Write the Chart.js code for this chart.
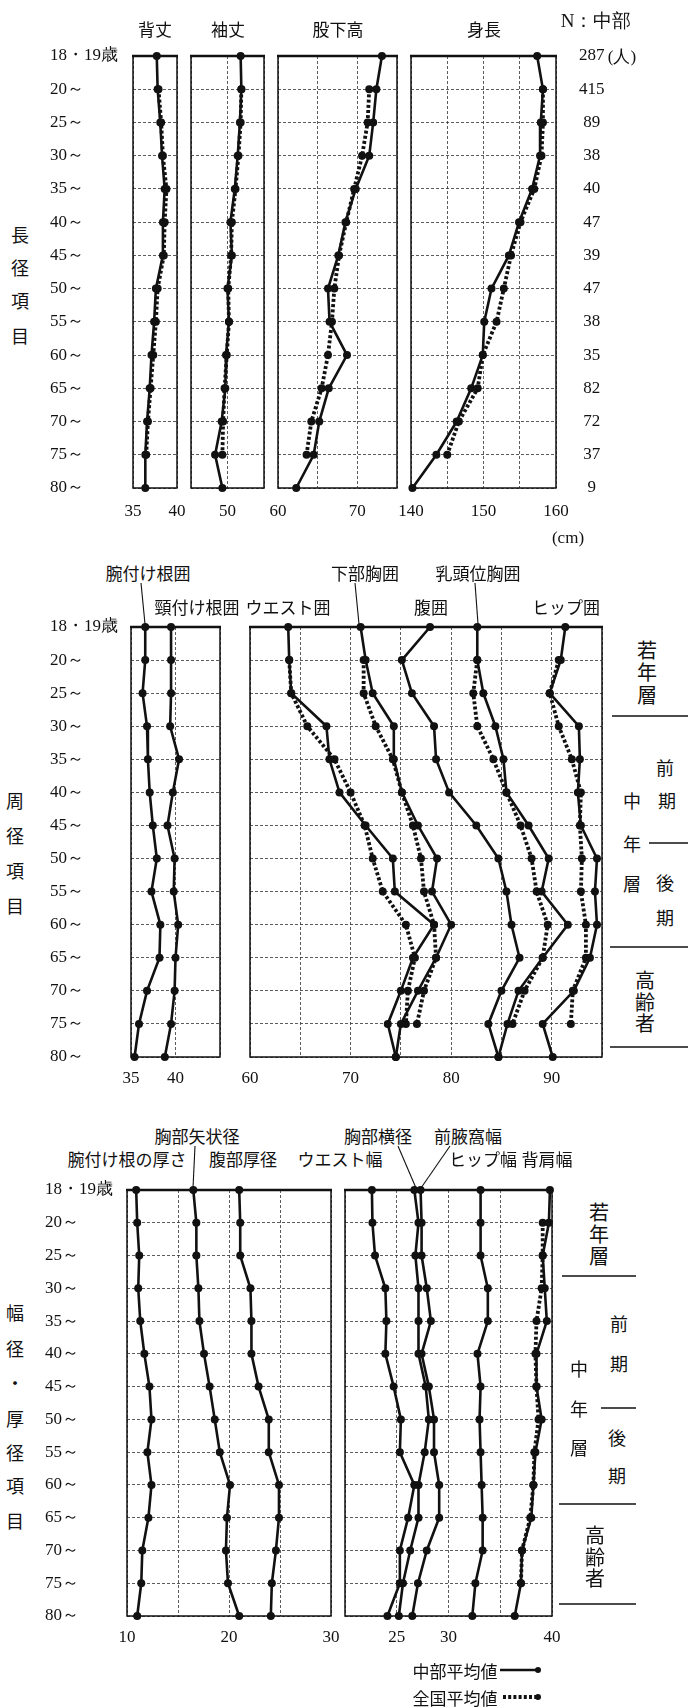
<!DOCTYPE html>
<html lang="ja">
<head>
<meta charset="utf-8">
<script src="https://cdn.jsdelivr.net/npm/chart.js@4.4.1/dist/chart.umd.min.js"></script>
<style>
  html, body { margin: 0; padding: 0; background: #fff; }
  #page { position: relative; width: 688px; height: 1708px; overflow: hidden; background: #fff; }
  .t { position: absolute; transform: translate(-50%, -50%); white-space: nowrap;
       font-family: 'Noto Sans CJK JP', 'Noto Sans', sans-serif; font-size: 17px; color: #111; line-height: 1; }
  .num { font-family: 'Liberation Serif', 'DejaVu Serif', serif; }
  #ink { position: absolute; left: 0; top: 0; }
</style>
</head>
<body>
<div id="page"><svg id="ink" width="688" height="1708"></svg></div>
<script>
// ---- age groups and sample sizes (中部) ----
const ageLabels = ['18・19歳', '20～', '25～', '30～', '35～', '40～', '45～', '50～', '55～', '60～', '65～', '70～', '75～', '80～'];
const nCounts = ['287', '415', '89', '38', '40', '47', '39', '47', '38', '35', '82', '72', '37', '9'];

// ---- 長径項目 (cm) ----
const backLenChubu     = [37.7, 37.8, 38.1, 38.3, 38.6, 38.4, 38.4, 37.6, 37.4, 37.1, 36.9, 36.6, 36.4, 36.4];
const backLenNational  = [null, 37.9, 38.2, 38.4, 38.8, 38.6, 38.5, 37.8, 37.6, 37.3, 37.0, 36.7, 36.5, null];
const sleeveChubu      = [51.8, 51.9, 51.7, 51.4, 51.0, 50.4, 50.6, 50.0, 50.2, 49.8, 49.7, 49.2, 48.3, 49.3];
const sleeveNational   = [null, 51.9, 51.8, 51.5, 51.1, 50.6, 50.5, 50.1, 50.2, 49.9, 49.6, 49.4, 49.3, null];
const inseamChubu      = [73.1, 72.4, 72.0, 71.5, 69.8, 68.5, 67.6, 66.3, 66.5, 68.7, 66.4, 65.2, 64.5, 62.3];
const inseamNational   = [null, 71.5, 71.3, 70.6, 69.6, 68.6, 67.7, 67.1, 66.8, 66.3, 65.5, 64.2, 63.6, null];
const statureChubu     = [157.4, 158.2, 157.9, 157.8, 156.7, 154.9, 153.5, 151.1, 150.1, 149.9, 148.3, 146.3, 143.5, 140.2];
const statureNational  = [null, 158.2, 158.2, 158.0, 157.0, 155.1, 153.8, 152.8, 151.8, 149.9, 149.2, 146.6, 145.0, null];

// ---- 周径項目 (cm) ----
const armholeGirth     = [36.6, 36.6, 36.3, 36.8, 36.9, 37.1, 37.45, 37.9, 37.3, 38.3, 38.2, 36.8, 35.9, 35.4];
const neckBaseGirth    = [39.5, 39.5, 39.5, 39.4, 40.4, 39.7, 39.1, 39.9, 39.8, 40.3, 40.0, 39.9, 39.5, 38.8];
const waistChubu       = [63.8, 63.9, 64.1, 67.6, 67.9, 68.9, 71.5, 74.2, 74.4, 78.3, 76.2, 75.0, 73.7, 74.5];
const waistNational    = [null, 63.9, 64.1, 65.7, 68.4, 70.0, 71.4, 72.2, 73.2, 75.5, 76.4, 75.7, 75.5, null];
const underbustChubu   = [71.0, 71.5, 72.2, 74.3, 74.3, 75.1, 76.7, 78.6, 78.1, 80.0, 78.5, 76.7, 75.0, 74.5];
const underbustNational= [null, 71.3, 71.3, 72.5, 74.2, 75.1, 76.2, 77.0, 77.3, 78.3, 78.5, 77.3, 76.6, null];
const abdomenChubu     = [77.9, 75.1, 76.1, 78.3, 78.5, 79.8, 82.5, 84.7, 85.5, 86.0, 86.8, 85.0, 83.7, 84.7];
const bustChubu        = [82.6, 82.6, 83.2, 84.4, 85.2, 85.5, 87.7, 89.7, 89.0, 91.6, 89.1, 86.7, 85.6, 84.7];
const bustNational     = [null, 82.6, 82.2, 82.6, 84.2, 85.5, 86.9, 88.0, 88.5, 89.6, 89.1, 87.3, 86.1, null];
const hipChubu         = [91.35, 90.9, 89.8, 92.7, 92.8, 92.6, 92.9, 94.5, 94.3, 94.5, 93.8, 92.2, 89.1, 90.1];
const hipNational      = [null, 90.7, 89.8, 90.7, 92.0, 92.9, 92.8, 93.0, 92.9, 93.4, 93.4, 92.1, 91.9, null];

// ---- 幅径・厚径項目 (cm) ----
const armThickness     = [10.9, 11.0, 11.2, 11.1, 11.3, 11.7, 12.2, 12.4, 12.0, 12.4, 12.1, 11.5, 11.4, 11.0];
const chestSagittal    = [16.5, 16.8, 16.8, 17.0, 17.1, 17.55, 18.1, 18.6, 19.1, 20.1, 19.8, 19.7, 19.9, 21.0];
const abdomenDepth     = [21.0, 21.1, 21.1, 22.1, 22.2, 22.2, 22.9, 23.9, 23.9, 24.9, 24.9, 24.6, 24.2, 24.1];
const waistBreadth     = [22.6, 22.65, 22.9, 23.9, 24.0, 23.9, 24.7, 25.4, 25.3, 26.7, 26.1, 25.3, 25.3, 24.1];
const chestBreadth     = [26.7, 27.1, 26.8, 27.1, 27.1, 27.1, 27.8, 28.1, 27.7, 27.1, 27.1, 26.3, 25.6, 25.2];
const armpitBreadth    = [27.3, 27.4, 27.4, 27.9, 28.3, 27.4, 28.1, 28.6, 28.6, 29.1, 29.1, 27.9, 27.05, 26.5];
const hipBreadth       = [33.1, 33.1, 33.1, 33.8, 33.8, 32.8, 33.1, 33.0, 33.1, 33.2, 33.3, 33.3, 32.6, 32.3];
const shoulderChubu    = [39.8, 39.7, 39.1, 39.3, 39.5, 38.5, 38.5, 39.0, 38.4, 38.2, 38.0, 37.1, 37.0, 36.4];
const shoulderNational = [null, 39.1, 39.1, 39.0, 38.5, 38.4, 38.5, 38.7, 38.3, 38.2, 37.9, 37.1, 37.0, null];

// ---- axis tick labels ----
const backLenTicks = [35, 40];
const sleeveTicks = [50];
const inseamTicks = [60, 70];
const statureTicks = [140, 150, 160];
const neckArmTicks = [35, 40];
const girthTicks = [60, 70, 80, 90];
const depthTicks = [10, 20, 30];
const breadthTicks = [25, 30, 40];

// ---------------------------------------------------------------
const page = document.getElementById('page');
const ink = document.getElementById('ink');
const NS = 'http://www.w3.org/2000/svg';

const SOLID = { borderColor: '#111', backgroundColor: '#111', borderWidth: 2.6, pointRadius: 4,
  pointBackgroundColor: '#111', pointBorderColor: '#111', pointBorderWidth: 0, tension: 0, clip: false, spanGaps: false };
const DOTTED = Object.assign({}, SOLID, { borderWidth: 3.8, borderDash: [3, 2.2] });
const line = (data, style) => Object.assign({ data }, style);

const TICK_FONT = { family: "'Liberation Serif', 'DejaVu Serif', serif", size: 17 };

// panel outline with heavier top rule
const frame = {
  id: 'frame',
  beforeDatasetsDraw(chart) {
    const { ctx, chartArea: a } = chart;
    ctx.save();
    ctx.setLineDash([]);
    ctx.strokeStyle = '#111';
    ctx.lineWidth = 1.5;
    ctx.strokeRect(a.left, a.top, a.right - a.left, a.bottom - a.top);
    ctx.lineWidth = 2.5;
    ctx.beginPath(); ctx.moveTo(a.left - 1, a.top); ctx.lineTo(a.right + 1, a.top); ctx.stroke();
    ctx.restore();
  }
};

function panel(p) {
  const PAD = 16;
  const yW = p.ageAxisAt ? p.left - p.ageAxisAt : 0;   // age labels start at ageAxisAt
  const rW = p.nAxis ? 56 : 0;
  const padL = PAD + yW, padR = PAD + rW, padT = PAD, padB = 42;
  const w = (p.right - p.left) + padL + padR;
  const h = (p.bottom - p.top) + padT + padB;
  const c = document.createElement('canvas');
  c.width = w; c.height = h;
  c.style.cssText = `position:absolute;left:${p.left - padL}px;top:${p.top - padT}px;width:${w}px;height:${h}px;`;
  page.appendChild(c);

  const scales = {
    x: {
      type: 'linear', min: p.min, max: p.max, position: 'bottom',
      grid: { color: '#333', lineWidth: 0.8, drawTicks: false },
      border: { display: false, dash: [3, 2] },
      ticks: { stepSize: 5, autoSkip: false, maxRotation: 0, padding: p.tickPad, color: '#111', font: TICK_FONT,
        callback: v => (p.ticks.includes(v) ? String(v) : '') },
      afterFit(s) { s.height = padB; s.paddingLeft = 0; s.paddingRight = 0; }
    },
    y: {
      type: 'category', labels: ageLabels, offset: false, position: 'left',
      grid: { color: '#333', lineWidth: 0.8, drawTicks: false },
      border: { display: false, dash: [3, 2] },
      ticks: { display: !!p.ageAxisAt, autoSkip: false, crossAlign: 'far', padding: 0, color: '#111', font: TICK_FONT },
      afterFit(s) { s.width = yW; s.paddingTop = 0; s.paddingBottom = 0; }
    }
  };
  if (p.nAxis) {
    scales.n = {
      type: 'category', labels: nCounts, offset: false, position: 'right',
      grid: { display: false }, border: { display: false },
      ticks: { autoSkip: false, crossAlign: 'center', padding: 15, color: '#111', font: TICK_FONT },
      afterFit(s) { s.width = rW; s.paddingTop = 0; s.paddingBottom = 0; }
    };
  }
  new Chart(c, {
    type: 'line',
    data: { labels: ageLabels, datasets: p.datasets },
    options: {
      indexAxis: 'y', responsive: false, animation: false, devicePixelRatio: 1, events: [],
      layout: { padding: { left: PAD, right: PAD, top: PAD, bottom: 0 } },
      plugins: { legend: { display: false }, tooltip: { enabled: false } },
      scales
    },
    plugins: [frame]
  });
}

// ---- 長径項目 ----
panel({ left: 133, right: 177, top: 56, bottom: 488, min: 35, max: 40, ticks: backLenTicks, tickPad: 13, ageAxisAt: 50,
  datasets: [line(backLenChubu, SOLID), line(backLenNational, DOTTED)] });
panel({ left: 191, right: 264, top: 56, bottom: 488, min: 45, max: 55, ticks: sleeveTicks, tickPad: 13,
  datasets: [line(sleeveChubu, SOLID), line(sleeveNational, DOTTED)] });
panel({ left: 278, right: 397, top: 56, bottom: 488, min: 60, max: 75, ticks: inseamTicks, tickPad: 13,
  datasets: [line(inseamChubu, SOLID), line(inseamNational, DOTTED)] });
panel({ left: 411, right: 556, top: 56, bottom: 488, min: 140, max: 160, ticks: statureTicks, tickPad: 13, nAxis: true,
  datasets: [line(statureChubu, SOLID), line(statureNational, DOTTED)] });

// ---- 周径項目 ----
panel({ left: 131, right: 220, top: 627, bottom: 1057, min: 35, max: 45, ticks: neckArmTicks, tickPad: 11, ageAxisAt: 50,
  datasets: [line(armholeGirth, SOLID), line(neckBaseGirth, SOLID)] });
panel({ left: 250, right: 602, top: 627, bottom: 1057, min: 60, max: 95, ticks: girthTicks, tickPad: 11,
  datasets: [line(waistChubu, SOLID), line(underbustChubu, SOLID), line(abdomenChubu, SOLID),
             line(bustChubu, SOLID), line(hipChubu, SOLID),
             line(waistNational, DOTTED), line(underbustNational, DOTTED),
             line(bustNational, DOTTED), line(hipNational, DOTTED)] });

// ---- 幅径・厚径項目 ----
panel({ left: 127, right: 331, top: 1190, bottom: 1616, min: 10, max: 30, ticks: depthTicks, tickPad: 11, ageAxisAt: 45,
  datasets: [line(armThickness, SOLID), line(chestSagittal, SOLID), line(abdomenDepth, SOLID)] });
panel({ left: 345, right: 552, top: 1190, bottom: 1616, min: 20, max: 40, ticks: breadthTicks, tickPad: 11,
  datasets: [line(waistBreadth, SOLID), line(chestBreadth, SOLID), line(armpitBreadth, SOLID),
             line(hipBreadth, SOLID), line(shoulderChubu, SOLID), line(shoulderNational, DOTTED)] });

// ---- text and rules ----
function txt(s, x, y, cls, size) {
  const d = document.createElement('div');
  d.className = 't' + (cls ? ' ' + cls : '');
  d.textContent = s;
  d.style.left = x + 'px'; d.style.top = y + 'px';
  if (size) d.style.fontSize = size + 'px';
  page.appendChild(d);
}
function column(chars, x, ys, size) { chars.forEach((ch, i) => txt(ch, x, ys[i], '', size)); }
function rule(x1, y1, x2, y2, w, dash) {
  const l = document.createElementNS(NS, 'line');
  l.setAttribute('x1', x1); l.setAttribute('y1', y1); l.setAttribute('x2', x2); l.setAttribute('y2', y2);
  l.setAttribute('stroke', '#111'); l.setAttribute('stroke-width', w || 1.3);
  if (dash) l.setAttribute('stroke-dasharray', dash);
  ink.appendChild(l);
}
function dot(x, y) {
  const c = document.createElementNS(NS, 'circle');
  c.setAttribute('cx', x); c.setAttribute('cy', y); c.setAttribute('r', 3); c.setAttribute('fill', '#111');
  ink.appendChild(c);
}

// section 1
txt('N：中部', 596, 20, 'num', 19);
txt('背丈', 155, 28); txt('袖丈', 228, 28); txt('股下高', 338, 28); txt('身長', 484, 28);
txt('(人)', 622, 56, 'num', 17);
txt('(cm)', 568, 537, 'num', 17);
column(['長', '径', '項', '目'], 20, [234, 267, 300, 335], 18);

// section 2
txt('腕付け根囲', 148, 572); txt('下部胸囲', 365, 572); txt('乳頭位胸囲', 478, 572);
txt('頸付け根囲', 197, 606); txt('ウエスト囲', 288, 606); txt('腹囲', 431, 606); txt('ヒップ囲', 566, 606);
rule(141, 583, 145, 624, 1.1); rule(355, 583, 359, 624, 1.1); rule(475, 583, 478, 624, 1.1);
column(['周', '径', '項', '目'], 15, [800, 835, 870, 905], 18);
column(['若', '年', '層'], 647, [650, 672, 695], 20);
rule(612, 716, 688, 716, 1.4);
txt('前', 665, 767, '', 18); txt('期', 667, 800, '', 18);
txt('中', 632, 800, '', 18); txt('年', 632, 843, '', 18); txt('層', 632, 883, '', 18);
rule(649, 843, 688, 843, 1.4);
txt('後', 665, 882, '', 18); txt('期', 665, 917, '', 18);
rule(610, 947, 688, 947, 1.4);
column(['高', '齢', '者'], 645, [980, 1002, 1023], 20);
rule(610, 1047, 688, 1047, 1.4);

// section 3
txt('胸部矢状径', 197, 1135); txt('胸部横径', 378, 1135); txt('前腋窩幅', 468, 1135);
txt('腕付け根の厚さ', 127, 1158); txt('腹部厚径', 243, 1158); txt('ウエスト幅', 340, 1158);
txt('ヒップ幅', 483, 1158); txt('背肩幅', 547, 1158);
rule(195, 1146, 193, 1188, 1.1); rule(398, 1146, 416, 1188, 1.1); rule(450, 1146, 421, 1188, 1.1);
column(['幅', '径', '・', '厚', '径', '項', '目'], 15, [1312, 1348, 1382, 1418, 1452, 1485, 1520], 18);
column(['若', '年', '層'], 599, [1212, 1234, 1256], 20);
rule(562, 1276, 636, 1276, 1.4);
txt('前', 619, 1323, '', 18); txt('期', 619, 1363, '', 18);
txt('中', 579, 1368, '', 18); txt('年', 579, 1408, '', 18); txt('層', 579, 1447, '', 18);
rule(601, 1408, 636, 1408, 1.4);
txt('後', 617, 1437, '', 18); txt('期', 617, 1475, '', 18);
rule(559, 1504, 636, 1504, 1.4);
column(['高', '齢', '者'], 595, [1535, 1557, 1578], 20);
rule(559, 1604, 636, 1604, 1.4);

// legend
txt('中部平均値', 455, 1670); rule(500, 1670, 538, 1670, 2.4); dot(538, 1670);
txt('全国平均値', 455, 1697); rule(503, 1697, 538, 1697, 3.8, '3 2.2'); dot(538, 1697);
</script>
</body>
</html>
